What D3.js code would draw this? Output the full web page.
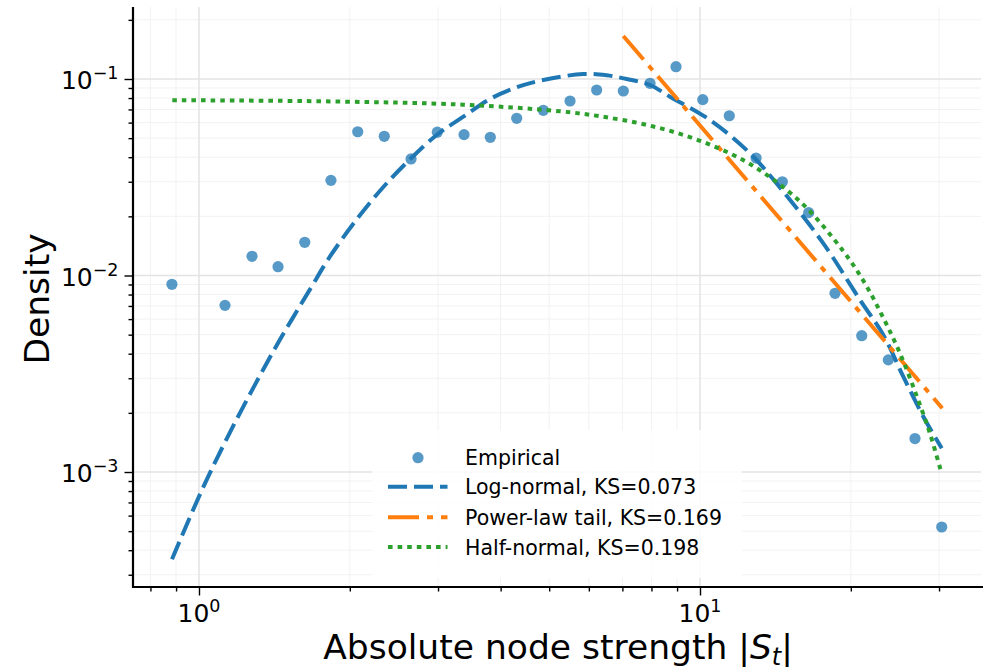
<!DOCTYPE html>
<html><head><meta charset="utf-8">
<script src="https://cdn.jsdelivr.net/npm/d3@7"></script>
<style>
body{margin:0;background:#fff}
text{font-family:"DejaVu Sans",sans-serif;fill:#000}
</style></head>
<body><svg id="c" width="983" height="672"></svg>
<script>
// ---- data ----
const empiricalX = [0.883,1.127,1.276,1.438,1.626,1.834,2.074,2.343,2.650,2.990,3.381,3.815,4.307,4.867,5.503,6.219,7.030,7.947,8.956,10.13,11.44,12.94,14.60,16.48,18.60,21.03,23.76,26.86,30.37];
const empiricalY = [0.00902,0.00705,0.01252,0.01109,0.01476,0.0305,0.0539,0.0511,0.0392,0.0536,0.0521,0.0505,0.0631,0.0693,0.0773,0.0879,0.0869,0.0951,0.1155,0.0785,0.0650,0.0396,0.0300,0.0209,0.00812,0.00494,0.00372,0.00148,0.000525];

const lognormX = [0.8833,1.0125,1.1357,1.2834,1.4512,1.6655,1.8262,2.0645,2.3333,2.6380,2.9817,3.3703,3.8097,4.3065,4.8671,5.8473,6.5136,7.1416,7.9470,8.711,10.470,12.584,14.664,17.624,20.865,23.223,25.458,27.916,30.375];
const lognormY = [0.0003595,0.000805,0.001475,0.00268,0.00472,0.00850,0.01250,0.01930,0.02820,0.03903,0.05188,0.06428,0.07910,0.09073,0.09884,0.10604,0.10443,0.1000,0.09322,0.08125,0.06184,0.04185,0.02670,0.01458,0.007503,0.004979,0.003055,0.001912,0.001320];

const powerX = [7.03, 30.45];
const powerY = [0.1655, 0.00211];

const halfX = [0.8846,1.8262,3.3703,5.2547,6.3154,7.9470,10.0,12.584,15.836,19.319,21.356,23.223,25.070,27.068,28.772,30.235];
const halfY = [0.07800,0.07690,0.07400,0.06850,0.06460,0.05790,0.04850,0.03690,0.02380,0.01330,0.009090,0.006080,0.004020,0.002440,0.001570,0.001020];

const xMajorTicks = [1, 10];
const xTickExponents = ["0", "1"];
const yMajorTicks = [1e-3, 1e-2, 1e-1];
const yTickExponents = ["\u22123", "\u22122", "\u22121"];
const legendLabels = ["Empirical", "Log-normal, KS=0.073", "Power-law tail, KS=0.169", "Half-normal, KS=0.198"];
const colors = {blue:"#1f77b4", orange:"#ff7f0e", green:"#2ca02c"};

// ---- layout ----
const L = 133, R = 981, T = 7, B = 587;
const svg = d3.select("#c");
const x = d3.scaleLog().domain([0.7384, 36.38]).range([L, R]);
const y = d3.scaleLog().domain([2.599e-4, 0.2325]).range([B, T]);

const isMajor = v => Math.abs(Math.log10(v) - Math.round(Math.log10(v))) < 1e-9;
const xAll = x.ticks();
const yAll = y.ticks();

// grid
const g = svg.append("g");
g.selectAll(".gxm").data(xAll.filter(v => !isMajor(v))).join("line")
  .attr("x1", d => x(d)).attr("x2", d => x(d)).attr("y1", T).attr("y2", B)
  .attr("stroke", "#f2f2f2").attr("stroke-width", 1);
g.selectAll(".gym").data(yAll.filter(v => !isMajor(v))).join("line")
  .attr("y1", d => y(d)).attr("y2", d => y(d)).attr("x1", L).attr("x2", R)
  .attr("stroke", "#f2f2f2").attr("stroke-width", 1);
g.selectAll(".gxM").data(xMajorTicks).join("line")
  .attr("x1", d => x(d)).attr("x2", d => x(d)).attr("y1", T).attr("y2", B)
  .attr("stroke", "#e3e3e3").attr("stroke-width", 1.5);
g.selectAll(".gyM").data(yMajorTicks).join("line")
  .attr("y1", d => y(d)).attr("y2", d => y(d)).attr("x1", L).attr("x2", R)
  .attr("stroke", "#e3e3e3").attr("stroke-width", 1.5);

// axes via d3
const xAxis = d3.axisBottom(x).tickValues(xAll).tickFormat("").tickSizeOuter(0).tickSize(0);
const axX = svg.append("g").attr("transform", `translate(0,${B})`).call(xAxis);
axX.select(".domain").remove();
axX.selectAll(".tick line").attr("y2", d => isMajor(d) ? 8.5 : 4.5).attr("stroke", "#000").attr("stroke-width", 1.4);
const yAxis = d3.axisLeft(y).tickValues(yAll).tickFormat("").tickSizeOuter(0).tickSize(0);
const axY = svg.append("g").attr("transform", `translate(${L},0)`).call(yAxis);
axY.select(".domain").remove();
axY.selectAll(".tick line").attr("x2", d => isMajor(d) ? -8.5 : -4.5).attr("stroke", "#000").attr("stroke-width", 1.4);

// tick labels
xMajorTicks.forEach((v, i) => {
  const t = svg.append("text").attr("x", x(v)).attr("y", 621.5).attr("text-anchor", "middle").style("font-size", "25px");
  t.append("tspan").text("10");
  t.append("tspan").attr("dy", -10).style("font-size", "17.5px").text(xTickExponents[i]);
});
yMajorTicks.forEach((v, i) => {
  const t = svg.append("text").attr("x", 118.5).attr("y", y(v) + 10).attr("text-anchor", "end").style("font-size", "25px");
  t.append("tspan").text("10");
  t.append("tspan").attr("dy", -10).style("font-size", "17.5px").text(yTickExponents[i]);
});

// spines
svg.append("line").attr("x1", L).attr("x2", L).attr("y1", T).attr("y2", B + 1).attr("stroke", "#000").attr("stroke-width", 2.2);
svg.append("line").attr("x1", L - 1).attr("x2", 983).attr("y1", B).attr("y2", B).attr("stroke", "#000").attr("stroke-width", 2.2);

// axis labels
const xl = svg.append("text").attr("x", 558).attr("y", 659).attr("text-anchor", "middle").style("font-size", "34.5px");
xl.append("tspan").text("Absolute node strength |");
xl.append("tspan").style("font-style", "italic").text("S");
xl.append("tspan").attr("dy", 6).style("font-style", "italic").style("font-size", "24px").text("t");
xl.append("tspan").attr("dy", -6).text("|");
svg.append("text").attr("transform", "translate(49,299) rotate(-90)").attr("text-anchor", "middle").style("font-size", "34.5px").text("Density");

// data marks
const pts = empiricalX.map((v, i) => [v, empiricalY[i]]);
svg.append("g").selectAll("circle").data(pts).join("circle")
  .attr("cx", d => x(d[0])).attr("cy", d => y(d[1])).attr("r", 5.6)
  .attr("fill", colors.blue).attr("fill-opacity", 0.75);

const line = d3.line().x(d => x(d[0])).y(d => y(d[1])).curve(d3.curveCatmullRom);
svg.append("path").datum(lognormX.map((v, i) => [v, lognormY[i]])).attr("d", line)
  .attr("fill", "none").attr("stroke", colors.blue).attr("stroke-width", 4).attr("stroke-dasharray", "19,7");
svg.append("path").datum(powerX.map((v, i) => [v, powerY[i]])).attr("d", line)
  .attr("fill", "none").attr("stroke", colors.orange).attr("stroke-width", 4).attr("stroke-dasharray", "31,8,6,8");
svg.append("path").datum(halfX.map((v, i) => [v, halfY[i]])).attr("d", line)
  .attr("fill", "none").attr("stroke", colors.green).attr("stroke-width", 4).attr("stroke-dasharray", "4.6,5");

// legend
const lg = svg.append("g");
lg.append("rect").attr("x", 372).attr("y", 430).attr("width", 370).attr("height", 148).attr("rx", 4)
  .attr("fill", "#fff").attr("fill-opacity", 0.85);
const rows = [457.7, 486.7, 517.3, 547];
lg.append("circle").attr("cx", 418).attr("cy", rows[0]).attr("r", 5.6).attr("fill", colors.blue).attr("fill-opacity", 0.75);
const hs = [[colors.blue, "19,7"], [colors.orange, "31,8,6,8"], [colors.green, "4.6,5"]];
hs.forEach((h, i) => {
  lg.append("line").attr("x1", 388).attr("x2", 447.5).attr("y1", rows[i + 1]).attr("y2", rows[i + 1])
    .attr("stroke", h[0]).attr("stroke-width", 4).attr("stroke-dasharray", h[1]);
});
legendLabels.forEach((s, i) => {
  lg.append("text").attr("x", 465).attr("y", rows[i] + 7.5).style("font-size", "20.5px").text(s);
});
</script></body></html>
